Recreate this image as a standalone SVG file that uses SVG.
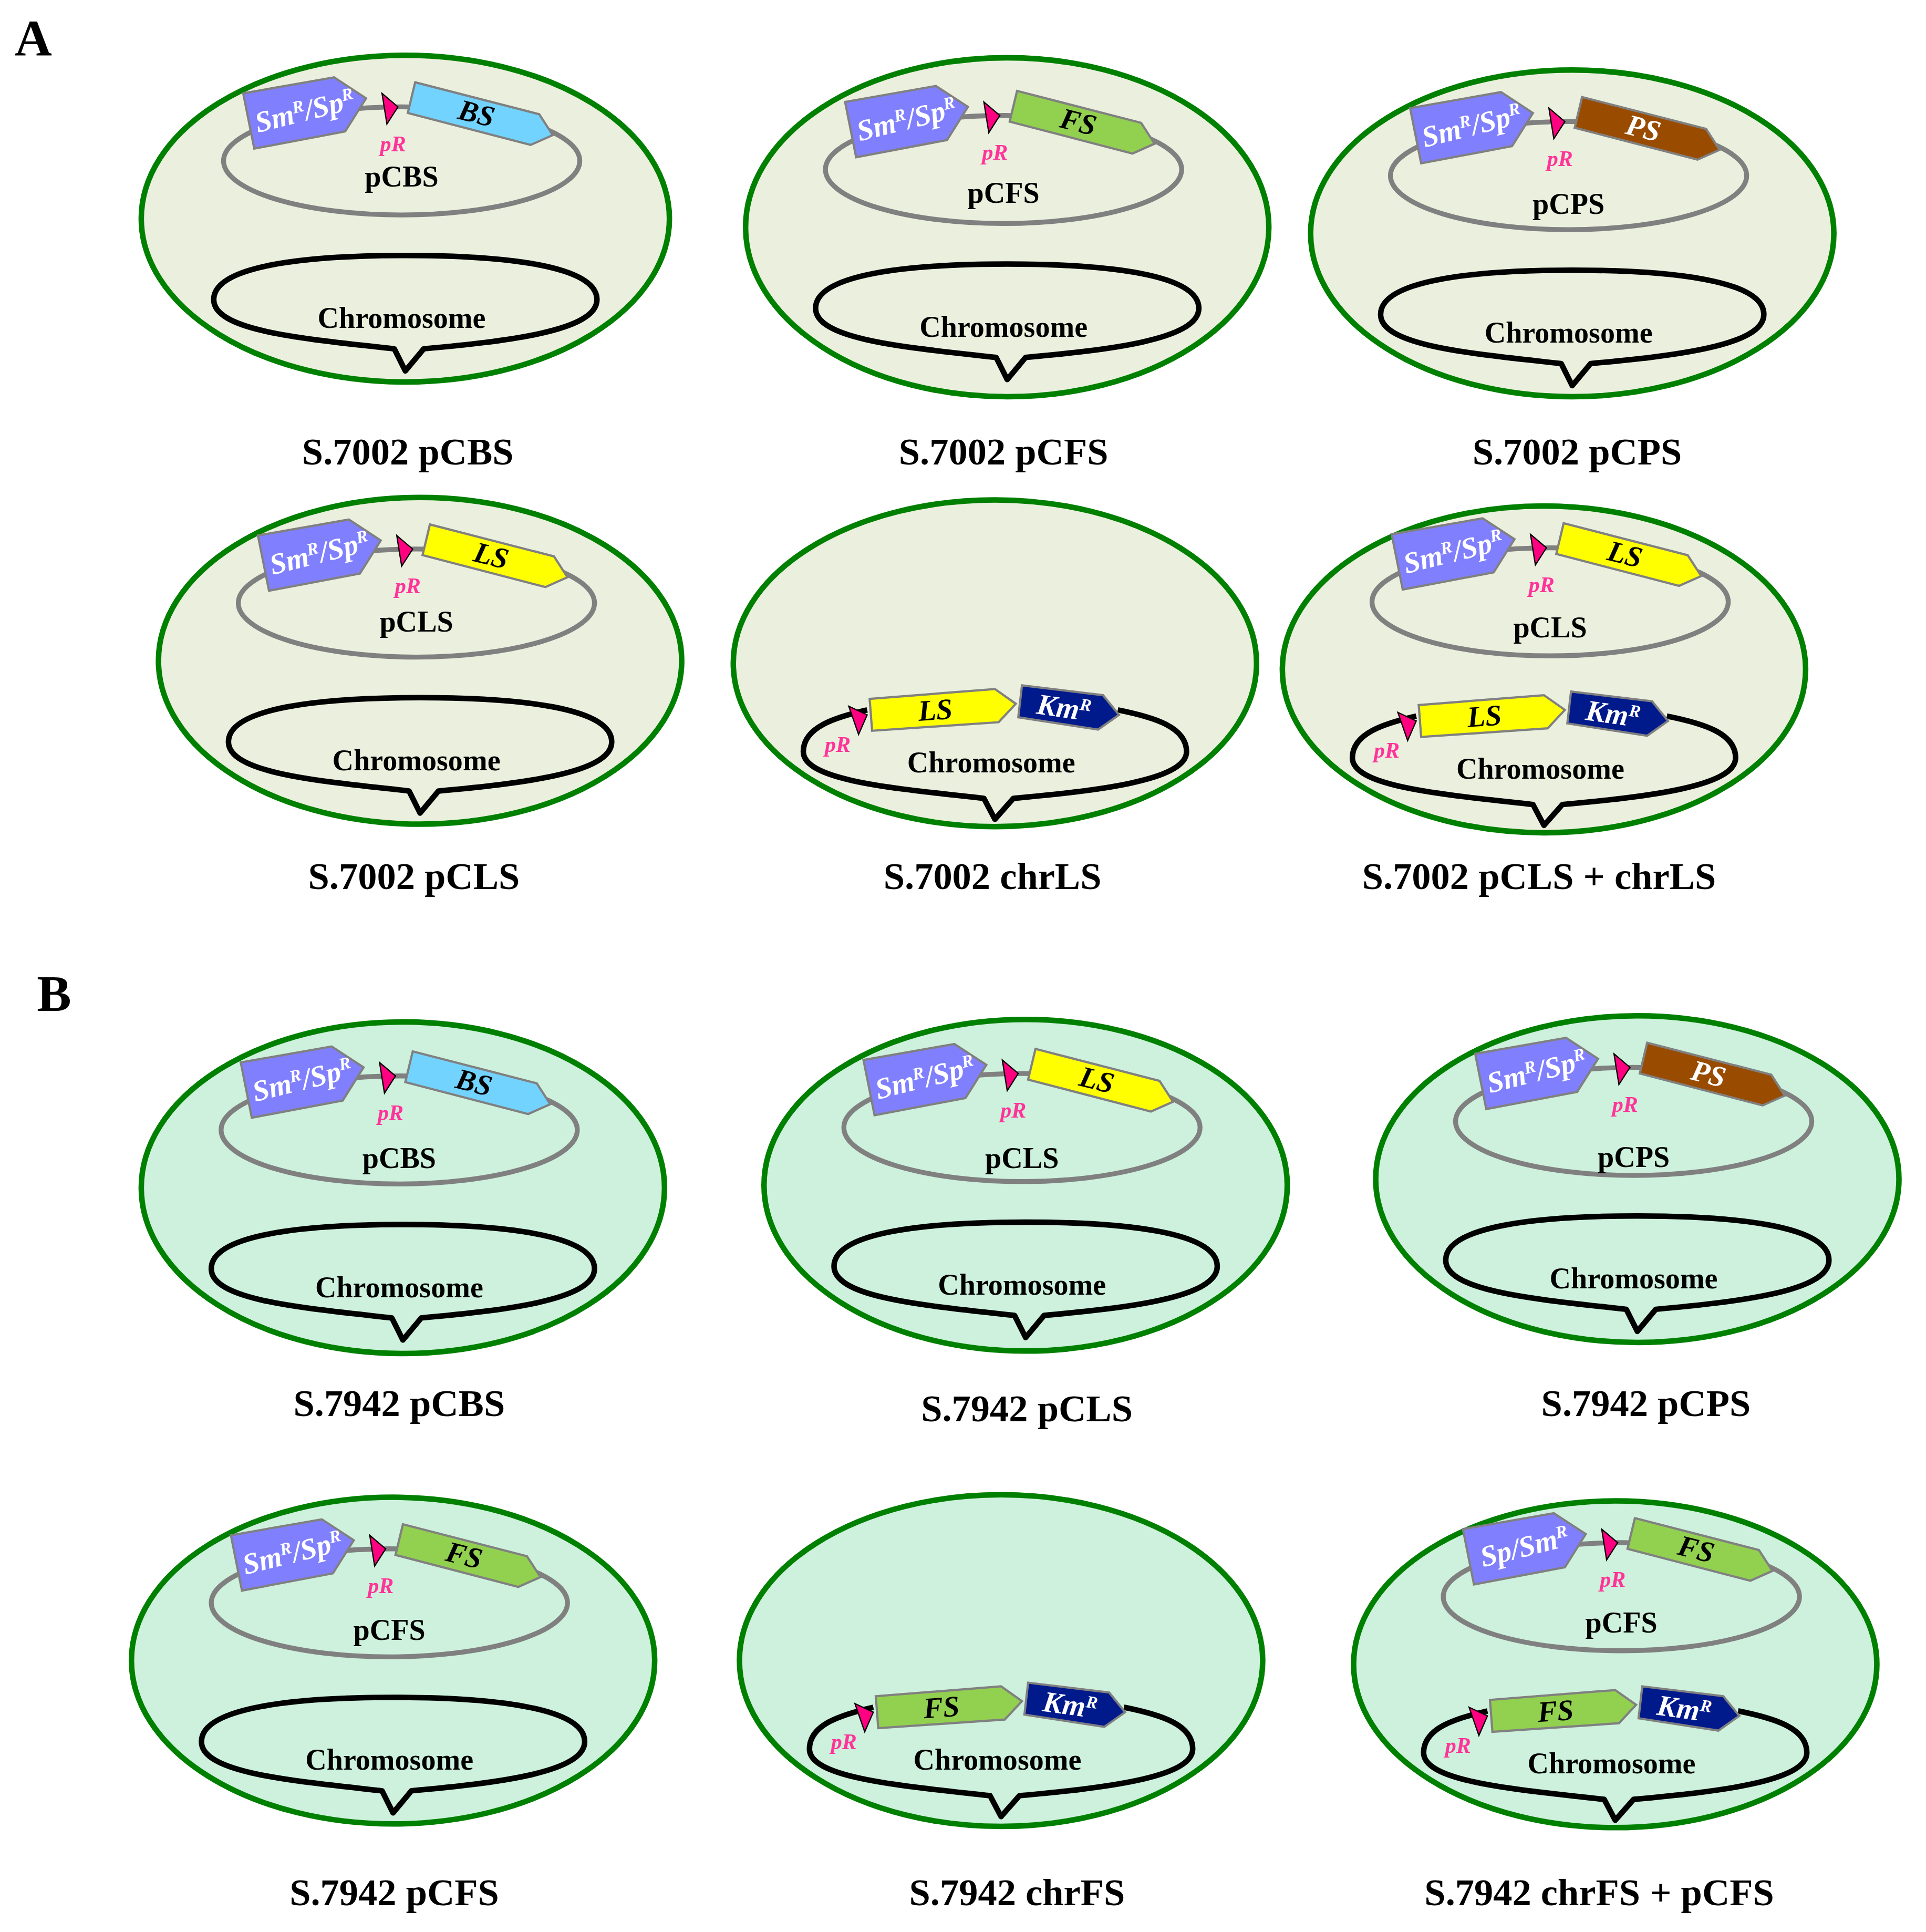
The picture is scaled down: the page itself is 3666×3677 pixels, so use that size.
<svg xmlns="http://www.w3.org/2000/svg" xmlns:xlink="http://www.w3.org/1999/xlink" width="3666" height="3677" viewBox="0 0 3666 3677">
<style>
.ca{fill:#ebf0de;stroke:#008000;stroke-width:4.5}
.cb{fill:#cdf1dc;stroke:#008000;stroke-width:4.5}
.ring{fill:none;stroke:#808080;stroke-width:4}
.chr{fill:none;stroke:#000;stroke-width:4.5;stroke-linejoin:round}
.gs{stroke:#808080;stroke-width:1.8}
.prom{fill:#ff0080;stroke:#000;stroke-width:1}
.bs{fill:#73d3ff}.fs{fill:#92d050}.ps{fill:#994c00}.ls{fill:#ffff00}.km{fill:#001a8c}.sm{fill:#8080ff}
text{font-family:"Liberation Serif","Times New Roman",serif;font-weight:bold}
.gt{font-size:24px;font-style:italic;text-anchor:middle}
.wt{fill:#fff}
.pr{font-size:18px;font-style:italic;fill:#ff3399;text-anchor:middle}
.pn{font-size:24px;text-anchor:middle}
.lb{font-size:31px;text-anchor:middle}
.pl{font-size:42px}
</style>
<defs>
<polygon id="geneP" class="gs" points="8,-111 109,-85 120,-68 102,-60 2,-86"/>
<g id="plasmid">
<ellipse class="ring" cx="-3" cy="-47" rx="145" ry="44"/>
<polygon class="gs sm" points="-132,-102 -58,-115 -32,-98 -49,-71 -123,-57"/>
<text class="gt wt" transform="translate(-80,-80) rotate(-14)">Sm<tspan font-size="14" dy="-8">R</tspan><tspan dy="8">/Sp</tspan><tspan font-size="14" dy="-8">R</tspan></text>
<polygon class="prom" points="-19,-102 -6,-91 -15,-77"/>
<text class="pr" x="-10" y="-55">pR</text>
</g>
<g id="plasmidB6">
<ellipse class="ring" cx="-3" cy="-47" rx="145" ry="44"/>
<polygon class="gs sm" points="-132,-102 -58,-115 -32,-98 -49,-71 -123,-57"/>
<text class="gt wt" transform="translate(-80,-80) rotate(-14)">Sp/Sm<tspan font-size="14" dy="-8">R</tspan></text>
<polygon class="prom" points="-19,-102 -6,-91 -15,-77"/>
<text class="pr" x="-10" y="-55">pR</text>
</g>
<g id="chrom">
<path class="chr" d="M -156,66 C -156,38 -80,30 0,30 C 80,30 156,38 156,66 C 156,92 80,100 15,106 L 0,124 L -9,106 C -80,98 -156,92 -156,66 Z"/>
<text class="pn" x="-3" y="89">Chromosome</text>
</g>
<g id="chromG">
<path class="chr" d="M -104,38 C -130,44 -156,52 -156,72 C -156,96 -80,102 -9,110 L 0,127 L 15,110 C 80,104 156,96 156,72 C 156,52 130,44 100,38"/>
<polygon class="gs km" points="22,18 88,26 101,42 84,54 19,44"/>
<text class="gt wt" transform="translate(55,44) rotate(8)">Km<tspan font-size="14" dy="-8">R</tspan></text>
<polygon class="prom" points="-119,35 -104,42 -111,58"/>
<text class="pr" x="-128" y="72">pR</text>
<text class="pn" x="-3" y="89">Chromosome</text>
</g>
<polygon id="geneC" class="gs" points="-102,29 0,21 17,33 3,48 -100,55"/>
</defs>
<g transform="scale(2.338 2.3376)">
<text class="pl" x="12" y="45">A</text>
<text class="pl" x="30" y="823">B</text>

<g id="A1" transform="translate(330,178)">
<ellipse class="ca" rx="215" ry="133"/>
<use xlink:href="#plasmid"/>
<use xlink:href="#geneP" class="bs"/>
<text class="gt" transform="translate(56,-78) rotate(14)">BS</text>
<text class="pn" x="-3" y="-26">pCBS</text>
<use xlink:href="#chrom"/>
<text class="lb" x="2" y="200">S.7002 pCBS</text>
</g>
<g id="A2" transform="translate(820,185)">
<ellipse class="ca" rx="213" ry="138"/>
<use xlink:href="#plasmid"/>
<use xlink:href="#geneP" class="fs"/>
<text class="gt" transform="translate(56,-78) rotate(14)">FS</text>
<text class="pn" x="-3" y="-20">pCFS</text>
<use xlink:href="#chrom"/>
<text class="lb" x="-3" y="193">S.7002 pCFS</text>
</g>
<g id="A3" transform="translate(1280,190)">
<ellipse class="ca" rx="213" ry="133"/>
<use xlink:href="#plasmid"/>
<use xlink:href="#geneP" class="ps"/>
<text class="gt wt" transform="translate(56,-78) rotate(14)">PS</text>
<text class="pn" x="-3" y="-16">pCPS</text>
<use xlink:href="#chrom"/>
<text class="lb" x="4" y="188">S.7002 pCPS</text>
</g>
<g id="A4" transform="translate(342,538)">
<ellipse class="ca" rx="213" ry="133"/>
<use xlink:href="#plasmid"/>
<use xlink:href="#geneP" class="ls"/>
<text class="gt" transform="translate(56,-78) rotate(14)">LS</text>
<text class="pn" x="-3" y="-24">pCLS</text>
<use xlink:href="#chrom"/>
<text class="lb" x="-5" y="186">S.7002 pCLS</text>
</g>
<g id="A5" transform="translate(810,540)">
<ellipse class="ca" rx="213" ry="133"/>
<use xlink:href="#chromG"/>
<use xlink:href="#geneC" class="ls"/>
<text class="gt" transform="translate(-48,46) rotate(-4)">LS</text>
<text class="lb" x="-2" y="184">S.7002 chrLS</text>
</g>
<g id="A6" transform="translate(1257,545)">
<ellipse class="ca" rx="213" ry="133"/>
<g transform="translate(8,-8)">
<use xlink:href="#plasmid"/>
<use xlink:href="#geneP" class="ls"/>
<text class="gt" transform="translate(56,-78) rotate(14)">LS</text>
<text class="pn" x="-3" y="-18">pCLS</text>
</g>
<use xlink:href="#chromG"/>
<use xlink:href="#geneC" class="ls"/>
<text class="gt" transform="translate(-48,46) rotate(-4)">LS</text>
<text class="lb" x="-4" y="179">S.7002 pCLS + chrLS</text>
</g>

<g id="B1" transform="translate(328,967)">
<ellipse class="cb" rx="213" ry="135"/>
<use xlink:href="#plasmid"/>
<use xlink:href="#geneP" class="bs"/>
<text class="gt" transform="translate(56,-78) rotate(14)">BS</text>
<text class="pn" x="-3" y="-16">pCBS</text>
<use xlink:href="#chrom"/>
<text class="lb" x="-3" y="186">S.7942 pCBS</text>
</g>
<g id="B2" transform="translate(835,965)">
<ellipse class="cb" rx="213" ry="135"/>
<use xlink:href="#plasmid"/>
<use xlink:href="#geneP" class="ls"/>
<text class="gt" transform="translate(56,-78) rotate(14)">LS</text>
<text class="pn" x="-3" y="-14">pCLS</text>
<use xlink:href="#chrom"/>
<text class="lb" x="1" y="192">S.7942 pCLS</text>
</g>
<g id="B3" transform="translate(1333,960)">
<ellipse class="cb" rx="213" ry="133"/>
<use xlink:href="#plasmid"/>
<use xlink:href="#geneP" class="ps"/>
<text class="gt wt" transform="translate(56,-78) rotate(14)">PS</text>
<text class="pn" x="-3" y="-10">pCPS</text>
<use xlink:href="#chrom"/>
<text class="lb" x="7" y="193">S.7942 pCPS</text>
</g>
<g id="B4" transform="translate(320,1352)">
<ellipse class="cb" rx="213" ry="133"/>
<use xlink:href="#plasmid"/>
<use xlink:href="#geneP" class="fs"/>
<text class="gt" transform="translate(56,-78) rotate(14)">FS</text>
<text class="pn" x="-3" y="-17">pCFS</text>
<use xlink:href="#chrom"/>
<text class="lb" x="1" y="199">S.7942 pCFS</text>
</g>
<g id="B5" transform="translate(815,1352)">
<ellipse class="cb" rx="213" ry="135"/>
<use xlink:href="#chromG"/>
<use xlink:href="#geneC" class="fs"/>
<text class="gt" transform="translate(-48,46) rotate(-4)">FS</text>
<text class="lb" x="13" y="199">S.7942 chrFS</text>
</g>
<g id="B6" transform="translate(1315,1355)">
<ellipse class="cb" rx="213" ry="133"/>
<g transform="translate(8,-8)">
<use xlink:href="#plasmidB6"/>
<use xlink:href="#geneP" class="fs"/>
<text class="gt" transform="translate(56,-78) rotate(14)">FS</text>
<text class="pn" x="-3" y="-18">pCFS</text>
</g>
<use xlink:href="#chromG"/>
<use xlink:href="#geneC" class="fs"/>
<text class="gt" transform="translate(-48,46) rotate(-4)">FS</text>
<text class="lb" x="-13" y="196">S.7942 chrFS + pCFS</text>
</g>
</g>
</svg>
